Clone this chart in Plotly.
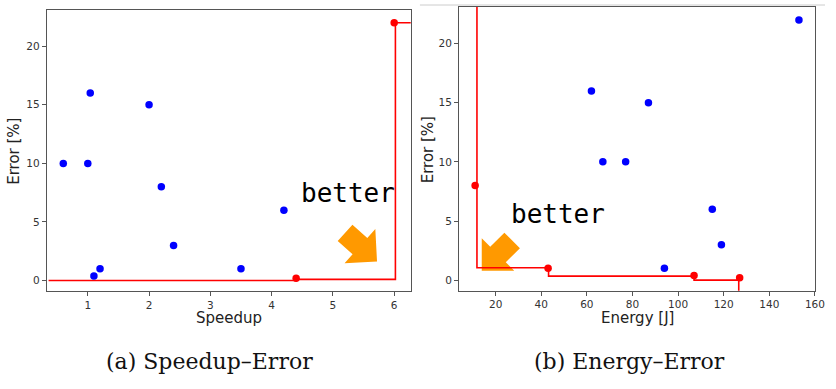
import math
import plotly.graph_objects as go

# ---- data: speedup vs. error ----
speedup_all = [0.6, 1.0, 1.04, 1.1, 1.2, 2.0, 2.2, 2.4, 3.5, 4.2]
speedup_all_err = [10, 10, 16, 0.4, 1, 15, 8, 3, 1, 6]
speedup_pareto = [4.4, 6.0]
speedup_pareto_err = [0.2, 22]
speedup_front = [0.36, 4.4, 4.4, 6.02, 6.02, 6.3]
speedup_front_err = [0, 0, 0.1, 0.1, 22, 22]

# ---- data: energy vs. error ----
energy_all = [62, 67, 77, 87, 94, 115, 119, 153]
energy_all_err = [16, 10, 10, 15, 1, 6, 3, 22]
energy_pareto = [11, 43, 107, 127]
energy_pareto_err = [8, 1, 0.4, 0.2]
energy_front = [11.8, 11.8, 43.2, 43.2, 107.0, 107.0, 126.6, 126.6]
energy_front_err = [24, 1.05, 1.05, 0.34, 0.34, 0.0, 0.0, -1.5]

speedup_ticks = [1, 2, 3, 4, 5, 6]
energy_ticks = [20, 40, 60, 80, 100, 120, 140, 160]
error_ticks = [0, 5, 10, 15, 20]

W, H = 836, 389
BLUE = "#0000ff"
RED = "#ff0000"
ORANGE = "#ff9900"
FRAME = "#555555"


def px(x):
    return x / W


def py(y):
    return 1 - y / H


fig = go.Figure()

# scatter of all configurations + Pareto points + Pareto front
fig.add_trace(go.Scatter(x=speedup_front, y=speedup_front_err, mode="lines",
                         line=dict(color=RED, width=1.6), xaxis="x", yaxis="y",
                         hoverinfo="skip"))
fig.add_trace(go.Scatter(x=speedup_all, y=speedup_all_err, mode="markers",
                         marker=dict(color=BLUE, size=7.5, line=dict(width=0)),
                         xaxis="x", yaxis="y"))
fig.add_trace(go.Scatter(x=speedup_pareto, y=speedup_pareto_err, mode="markers",
                         marker=dict(color=RED, size=7.5, line=dict(width=0)),
                         xaxis="x", yaxis="y"))

fig.add_trace(go.Scatter(x=energy_front, y=energy_front_err, mode="lines",
                         line=dict(color=RED, width=1.6), xaxis="x2", yaxis="y2",
                         hoverinfo="skip"))
fig.add_trace(go.Scatter(x=energy_all, y=energy_all_err, mode="markers",
                         marker=dict(color=BLUE, size=7.5, line=dict(width=0)),
                         xaxis="x2", yaxis="y2"))
fig.add_trace(go.Scatter(x=energy_pareto, y=energy_pareto_err, mode="markers",
                         marker=dict(color=RED, size=7.5, line=dict(width=0)),
                         xaxis="x2", yaxis="y2"))

tick_font = dict(family="DejaVu Sans", size=10.5, color="#333333")
axis_common = dict(showline=True, mirror=True, linecolor=FRAME, linewidth=1,
                   ticks="outside", ticklen=4, tickwidth=1, tickcolor=FRAME,
                   showgrid=False, zeroline=False, tickfont=tick_font)

fig.update_layout(
    width=W, height=H,
    margin=dict(l=0, r=0, t=0, b=0),
    paper_bgcolor="white", plot_bgcolor="white",
    showlegend=False,
    xaxis=dict(domain=[px(47.3), px(415.7)], range=[0.33, 6.27],
               tickvals=speedup_ticks, anchor="y", **axis_common),
    yaxis=dict(domain=[py(291), py(10)], range=[-0.89, 23.09],
               tickvals=error_ticks, anchor="x", **axis_common),
    xaxis2=dict(domain=[px(464.5), px(825)], range=[3.9, 160.1],
                tickvals=energy_ticks, anchor="y2", **axis_common),
    yaxis2=dict(domain=[py(290.7), py(7)], range=[-0.89, 23.09],
                tickvals=error_ticks, anchor="x2", **axis_common),
)


def arrow_path(angle_deg, head_len=23, head_w=46, stem_w=22, stem_len=20):
    """Fat block arrow in pixel units, tip at the origin, y pointing up.
    angle_deg is the pointing direction measured counter-clockwise from +x."""
    a = math.radians(angle_deg)
    ux, uy = math.cos(a), math.sin(a)
    nx, ny = -uy, ux

    def pt(back, side):
        return (-ux * back + nx * side, -uy * back + ny * side)

    pts = [pt(0, 0),
           pt(head_len, head_w / 2), pt(head_len, stem_w / 2),
           pt(head_len + stem_len, stem_w / 2), pt(head_len + stem_len, -stem_w / 2),
           pt(head_len, -stem_w / 2), pt(head_len, -head_w / 2)]
    return "M " + " L ".join(f"{x:.2f},{y:.2f}" for x, y in pts) + " Z"


shapes = [
    dict(type="path", xref="x", yref="y", xsizemode="pixel", ysizemode="pixel",
         xanchor=5.72, yanchor=1.62, path=arrow_path(-42),
         fillcolor=ORANGE, line=dict(width=0), layer="below"),
    dict(type="path", xref="x2", yref="y2", xsizemode="pixel", ysizemode="pixel",
         xanchor=13.9, yanchor=0.79, path=arrow_path(-135),
         fillcolor=ORANGE, line=dict(width=0), layer="below"),
    dict(type="line", xref="paper", yref="paper", x0=px(425), x1=px(835),
         y0=py(5), y1=py(5), line=dict(color="#cccccc", width=1)),
]
fig.update_layout(shapes=shapes)

label_font = dict(family="DejaVu Sans", size=15, color="#222222")
caption_font = dict(family="DejaVu Serif", size=22, color="#111111")
better_font = dict(family="DejaVu Sans Mono", size=26, color="#000000")

annotations = [
    dict(text="Error [%]", x=px(14), y=py(151), textangle=-90, font=label_font),
    dict(text="Error [%]", x=px(433), y=py(149.5), textangle=-90, font=label_font),
    dict(text="Speedup", x=px(231.5), y=py(318), font=label_font),
    dict(text="Energy [J]", x=px(645), y=py(318), font=label_font),
    dict(text="(a) Speedup–Error", x=px(212), y=py(361), font=caption_font),
    dict(text="(b) Energy–Error", x=px(637), y=py(361), font=caption_font),
    dict(text="better", xref="x", yref="y", x=4.45, y=7.48, xanchor="left",
         yanchor="middle", font=better_font),
    dict(text="better", xref="x2", yref="y2", x=25.8, y=5.63, xanchor="left",
         yanchor="middle", font=better_font),
]
for a in annotations:
    a.setdefault("xref", "paper")
    a.setdefault("yref", "paper")
    a.setdefault("xanchor", "center")
    a.setdefault("yanchor", "middle")
    a["showarrow"] = False
fig.update_layout(annotations=annotations)

fig.write_html("out.html")
